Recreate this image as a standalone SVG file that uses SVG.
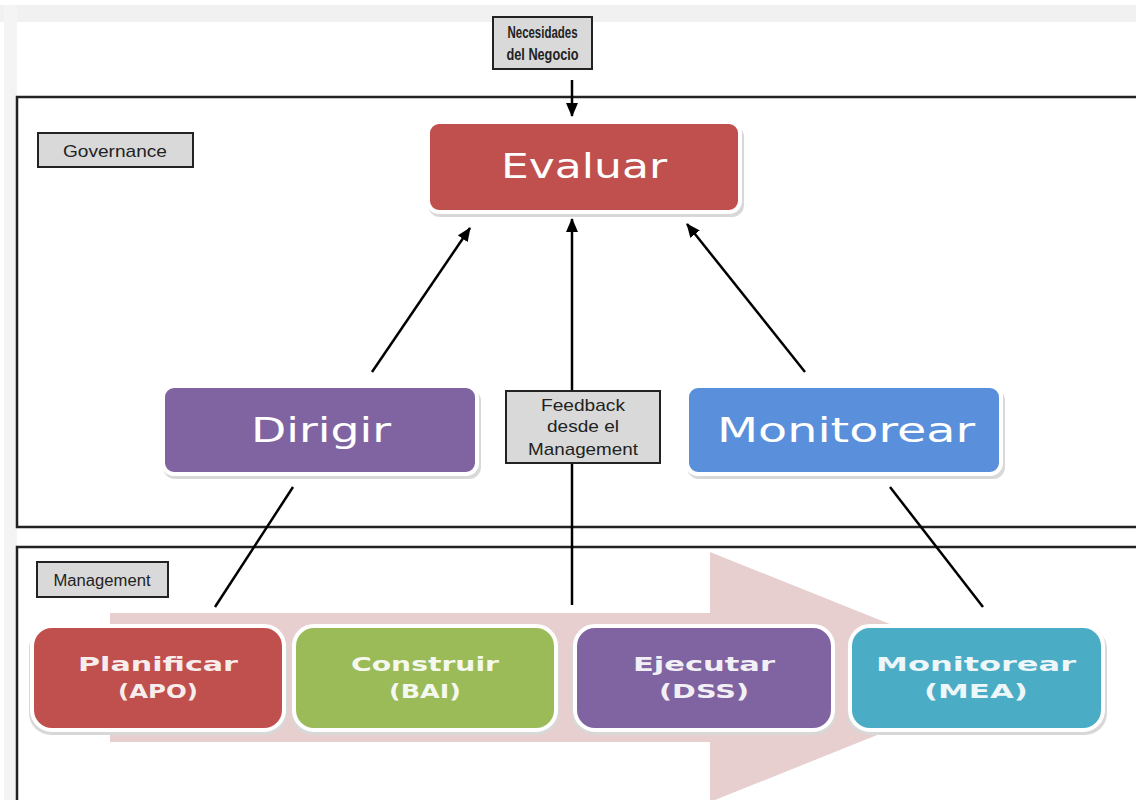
<svg xmlns="http://www.w3.org/2000/svg" width="1136" height="800" viewBox="0 0 1136 800">
<style>
.frame{fill:none;stroke:#222;stroke-width:2.5}
.lbl{fill:#d9d9d9;stroke:#222;stroke-width:2}
.lt{font-family:"Liberation Sans",Arial,sans-serif;fill:#222;text-anchor:middle}
.node{stroke:#fff;stroke-width:4}
.shadow{fill:#d8d8d8}
.big{font-family:"DejaVu Sans",Verdana,sans-serif;fill:#fff;text-anchor:middle;font-size:34px}
.small{font-family:"DejaVu Sans",Verdana,sans-serif;fill:#fff;text-anchor:middle;font-size:19px;font-weight:bold;opacity:0.9}
.conn{stroke:#000;stroke-width:2.5;fill:none}
</style>
<defs>
<marker id="ah" viewBox="0 0 14 12" refX="13" refY="6" markerWidth="14" markerHeight="12" markerUnits="userSpaceOnUse" orient="auto">
<path d="M0,0 L14,6 L0,12 z" fill="#000"/>
</marker>
</defs>
<rect x="0" y="0" width="1136" height="800" fill="#fff"/>
<rect x="0" y="5" width="1136" height="17" fill="#f1f1f1"/>
<rect x="4" y="5" width="13" height="795" fill="#f4f4f4"/>
<rect x="17" y="22" width="1119" height="75" fill="#fff"/>

<g id="governance-frame">
<rect class="frame" x="17" y="97" width="1130" height="430" fill="#fff"/>
<rect class="lbl" x="38" y="133" width="155" height="34"/>
<text class="lt" x="115" y="157" font-size="17" textLength="104" lengthAdjust="spacingAndGlyphs">Governance</text>
</g>
<g id="management-frame">
<rect class="frame" x="17" y="547" width="1130" height="265" fill="#fff"/>
<rect class="lbl" x="37" y="562" width="131" height="35"/>
<text class="lt" x="102" y="586" font-size="16" textLength="97" lengthAdjust="spacingAndGlyphs">Management</text>
</g>

<g id="process-arrow">
<path d="M110,613 L710,613 L710,552 L1022,677 L710,802 L710,742 L110,742 z" fill="#e8cfcf"/>
</g>

<g id="connectors">
<line class="conn" x1="572" y1="80" x2="572" y2="116" marker-end="url(#ah)"/>
<line class="conn" x1="372" y1="372" x2="470" y2="228" marker-end="url(#ah)"/>
<line class="conn" x1="805" y1="372" x2="687" y2="224" marker-end="url(#ah)"/>
<line class="conn" x1="572" y1="605" x2="572" y2="219" marker-end="url(#ah)"/>
<line class="conn" x1="293" y1="487" x2="215" y2="607"/>
<line class="conn" x1="890" y1="487" x2="983" y2="607"/>
</g>

<g id="necesidades">
<rect class="lbl" x="493" y="17" width="99" height="52"/>
<text class="lt" x="542.5" y="38" font-size="16" font-weight="bold" textLength="70" lengthAdjust="spacingAndGlyphs">Necesidades</text>
<text class="lt" x="542.5" y="60" font-size="16" font-weight="bold" textLength="72" lengthAdjust="spacingAndGlyphs">del Negocio</text>
</g>

<g id="evaluar">
<rect class="shadow" x="428" y="125" width="316" height="92" rx="12"/>
<rect class="node" x="428" y="122" width="312" height="90" rx="11" fill="#c0504d"/>
<text class="big" x="584" y="178" textLength="166" lengthAdjust="spacingAndGlyphs">Evaluar</text>
</g>

<g id="dirigir">
<rect class="shadow" x="163" y="389" width="318" height="90" rx="12"/>
<rect class="node" x="163" y="386" width="314" height="88" rx="11" fill="#8064a2"/>
<text class="big" x="321" y="442" textLength="140" lengthAdjust="spacingAndGlyphs">Dirigir</text>
</g>

<g id="monitorear">
<rect class="shadow" x="687" y="389" width="318" height="90" rx="12"/>
<rect class="node" x="687" y="386" width="314" height="88" rx="11" fill="#5a8fdb"/>
<text class="big" x="846" y="442" textLength="258" lengthAdjust="spacingAndGlyphs">Monitorear</text>
</g>

<g id="feedback">
<rect class="lbl" x="506" y="391" width="154" height="72"/>
<text class="lt" x="583" y="411" font-size="17" textLength="84" lengthAdjust="spacingAndGlyphs">Feedback</text>
<text class="lt" x="583" y="432" font-size="17" textLength="72" lengthAdjust="spacingAndGlyphs">desde el</text>
<text class="lt" x="583" y="455" font-size="17" textLength="110" lengthAdjust="spacingAndGlyphs">Management</text>
</g>

<g id="planificar">
<rect class="shadow" x="29" y="627" width="258" height="108" rx="22"/>
<rect class="node" x="32" y="626" width="252" height="104" rx="20" fill="#c0504d"/>
<text class="small" x="158" y="671" textLength="160" lengthAdjust="spacingAndGlyphs">Planificar</text>
<text class="small" x="158" y="698" textLength="80" lengthAdjust="spacingAndGlyphs">(APO)</text>
</g>

<g id="construir">
<rect class="shadow" x="291" y="627" width="268" height="108" rx="22"/>
<rect class="node" x="294" y="626" width="262" height="104" rx="20" fill="#9bbb59"/>
<text class="small" x="425" y="671" textLength="148" lengthAdjust="spacingAndGlyphs">Construir</text>
<text class="small" x="425" y="698" textLength="72" lengthAdjust="spacingAndGlyphs">(BAI)</text>
</g>

<g id="ejecutar">
<rect class="shadow" x="572" y="627" width="264" height="108" rx="22"/>
<rect class="node" x="575" y="626" width="258" height="104" rx="20" fill="#8064a2"/>
<text class="small" x="704" y="671" textLength="142" lengthAdjust="spacingAndGlyphs">Ejecutar</text>
<text class="small" x="704" y="698" textLength="90" lengthAdjust="spacingAndGlyphs">(DSS)</text>
</g>

<g id="monitorear-mea">
<rect class="shadow" x="847" y="627" width="260" height="108" rx="22"/>
<rect class="node" x="850" y="626" width="253" height="104" rx="20" fill="#4bacc6"/>
<text class="small" x="976" y="671" textLength="200" lengthAdjust="spacingAndGlyphs">Monitorear</text>
<text class="small" x="976" y="698" textLength="104" lengthAdjust="spacingAndGlyphs">(MEA)</text>
</g>
</svg>
